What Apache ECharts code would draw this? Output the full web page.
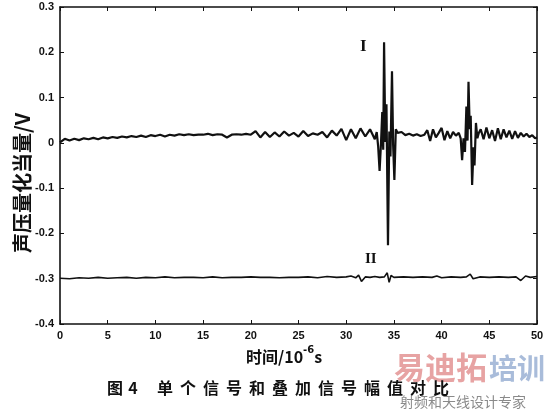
<!DOCTYPE html>
<html><head><meta charset="utf-8">
<script src="https://cdn.jsdelivr.net/npm/echarts@6/dist/echarts.min.js"></script>
<style>html,body{margin:0;padding:0;background:#fff}#c{width:549px;height:409px}</style>
</head><body><div id="c"></div>
<script>
// ---- data ----
const xTicks = [0,5,10,15,20,25,30,35,40,45,50];
const yTicks = [-0.4,-0.3,-0.2,-0.1,0,0.1,0.2,0.3];

const timeI = [0,0.5,1,1.5,2,2.5,3,3.5,4,4.5,5,5.5,6,6.5,7,7.5,8,8.5,9,9.5,10,10.5,11,11.5,12,12.5,13,13.5,14,14.5,15,15.5,16,16.5,17,17.5,18,18.5,19,19.5,20,20.5,21,21.5,22,22.5,23,23.5,24,24.5,25,25.5,26,26.5,27,27.5,28,28.5,29,29.5,30,30.5,31,31.5,32,32.5,33,
33.2,33.35,33.5,33.65,33.78,33.88,33.97,34.1,34.22,34.38,34.52,34.64,34.8,34.92,35.05,35.2,35.4,35.6,
35.8,36.2,36.6,37.0,37.4,37.8,38.2,38.5,38.8,39.1,39.4,39.7,40.0,40.3,40.6,40.9,41.2,41.5,41.8,42.0,
42.15,42.3,42.45,42.6,42.72,42.82,42.95,43.05,43.2,43.35,43.45,43.6,43.75,43.9,
44.1,44.4,44.7,45.0,45.3,45.6,45.9,46.2,46.5,46.8,47.1,47.4,47.7,48.0,48.3,48.6,48.9,49.2,49.5,49.8,50.0];
const valueI = [0.001,0.009,0.005,0.009,0.006,0.010,0.008,0.011,0.008,0.012,0.010,0.013,0.011,0.014,0.012,0.015,0.013,0.016,0.013,0.017,0.015,0.018,0.014,0.018,0.016,0.019,0.017,0.019,0.017,0.018,0.018,0.020,0.017,0.019,0.018,0.012,0.018,0.019,0.018,0.020,0.018,0.026,0.012,0.024,0.013,0.023,0.014,0.025,0.016,0.022,0.014,0.026,0.015,0.021,0.018,0.024,0.012,0.027,0.016,0.031,0.006,0.030,0.010,0.032,0.014,0.030,0.008,
0.024,-0.008,-0.062,0.000,0.068,-0.015,0.222,0.002,0.085,-0.226,0.025,-0.030,0.158,-0.005,-0.082,0.030,0.022,0.018,
0.024,0.017,0.020,0.016,0.019,0.015,0.018,0.028,0.004,0.030,0.012,0.022,0.033,0.006,0.026,0.010,0.024,0.016,0.022,0.010,
-0.038,0.010,-0.020,0.080,0.005,0.135,0.030,0.060,-0.093,-0.010,-0.050,0.044,0.010,0.022,
0.030,0.008,0.034,0.010,0.028,0.004,0.032,0.008,0.030,0.012,0.027,0.009,0.026,0.011,0.022,0.014,0.020,0.013,0.017,0.010,0.012];

const timeII = [0,1,2,3,4,5,6,7,8,9,10,11,12,13,14,15,16,17,18,19,20,21,22,23,24,25,26,27,28,29,30,30.5,31,31.3,31.6,32,32.5,33,33.5,34,34.3,34.5,34.7,35,36,37,38,39,39.5,40,41,42,42.6,43,43.3,44,45,46,47,47.8,48.3,48.8,49.3,50];
const valueII = [-0.299,-0.300,-0.298,-0.299,-0.297,-0.299,-0.298,-0.297,-0.299,-0.297,-0.298,-0.296,-0.298,-0.297,-0.297,-0.298,-0.296,-0.298,-0.297,-0.297,-0.296,-0.297,-0.297,-0.298,-0.297,-0.297,-0.296,-0.298,-0.295,-0.297,-0.296,-0.294,-0.298,-0.292,-0.306,-0.296,-0.297,-0.295,-0.297,-0.296,-0.287,-0.308,-0.293,-0.297,-0.296,-0.297,-0.296,-0.297,-0.294,-0.298,-0.296,-0.297,-0.296,-0.290,-0.300,-0.296,-0.297,-0.296,-0.297,-0.296,-0.304,-0.294,-0.297,-0.295];

const seriesNames = ['I','II'];
const xName = '时间/10';
const yName = '声压量化当量/V';
const caption = ['图','4','单','个','信','号','和','叠','加','信','号','幅','值','对','比'];

// ---- chart ----
const chart = echarts.init(document.getElementById('c'), null, {renderer:'canvas'});
const dI = timeI.map((t,i)=>[t,valueI[i]]);
const dII = timeII.map((t,i)=>[t,valueII[i]]);
function axisCommon(){ return {
  axisLine:{show:true,onZero:false,lineStyle:{color:'#111',width:1.6}},
  axisTick:{show:true,inside:true,length:4,lineStyle:{color:'#111',width:1}},
  splitLine:{show:false}
};}
const capX = [115,133,165,188,211,234,257,280,303,326,349,372,395,418,441];
const graphics = [
  {type:'text',left:360,top:38,style:{text:seriesNames[0],font:'bold 17px "Liberation Serif"',fill:'#111'}},
  {type:'text',left:365,top:252,style:{text:seriesNames[1],font:'bold 15px "Liberation Serif"',fill:'#111'}},
  {type:'text',left:246,top:345,style:{text:'{a|'+xName+'}{b|-6}{a|s}',rich:{a:{font:'bold 16px "Noto Sans CJK SC"',fill:'#111',verticalAlign:'bottom'},b:{font:'bold 10px "DejaVu Sans"',fill:'#111',verticalAlign:'top',padding:[0,0,10,0]}}}},
  {type:'text',x:22,y:183,rotation:Math.PI/2,style:{text:yName,font:'bold 20px "Noto Sans CJK SC"',fill:'#111',align:'center',verticalAlign:'middle'}},
  {type:'text',left:394,top:352,style:{text:'易迪拓',font:'bold 31px "Noto Sans CJK SC"',fill:'#e7a3a3'}},
  {type:'text',left:489,top:354,style:{text:'培训',font:'bold 28px "Noto Sans CJK SC"',fill:'#a9bcda'}},
  {type:'text',left:400,top:395,style:{text:'射频和天线设计专家',font:'14px "Noto Sans CJK SC"',fill:'#8a8a8a'}}
];
caption.forEach((ch,i)=>graphics.push({type:'text',x:capX[i],y:388,style:{text:ch,font:'bold 16px "Noto Sans CJK SC"',fill:'#111',align:'center',verticalAlign:'middle'}}));

chart.setOption({
  animation:false,
  backgroundColor:'#fff',
  grid:{left:60,right:12,top:7,bottom:85},
  xAxis:[
    Object.assign({type:'value',min:0,max:50,interval:5,position:'bottom',
      axisLabel:{color:'#111',fontWeight:'bold',fontSize:11,fontFamily:'Liberation Sans',margin:6}},axisCommon()),
    Object.assign({type:'value',min:0,max:50,interval:5,position:'top',axisLabel:{show:false}},axisCommon())
  ],
  yAxis:[
    Object.assign({type:'value',min:-0.4,max:0.3,interval:0.1,position:'left',
      axisLabel:{color:'#111',fontWeight:'bold',fontSize:11,fontFamily:'Liberation Sans',margin:6,
        formatter:v=>{const r=Math.round(v*10)/10;return r===0?'0':r.toFixed(1);}}},axisCommon()),
    Object.assign({type:'value',min:-0.4,max:0.3,interval:0.1,position:'right',axisLabel:{show:false}},axisCommon())
  ],
  series:[
    {name:seriesNames[0],type:'line',data:dI,showSymbol:false,symbol:'none',lineStyle:{color:'#111',width:2.2},xAxisIndex:0,yAxisIndex:0},
    {name:seriesNames[1],type:'line',data:dII,showSymbol:false,symbol:'none',lineStyle:{color:'#111',width:1.6},xAxisIndex:0,yAxisIndex:0}
  ],
  graphic:graphics
});
</script></body></html>
